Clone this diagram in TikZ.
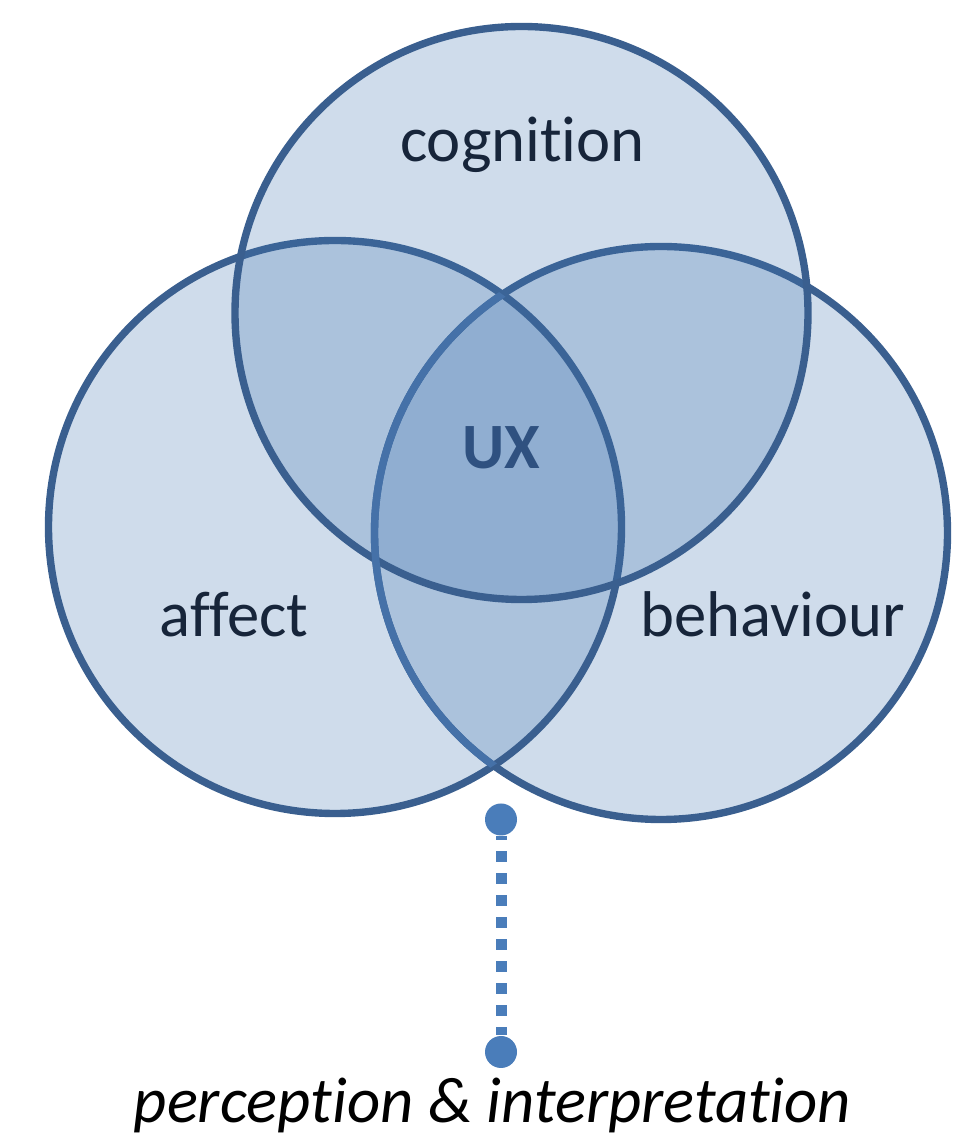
\documentclass[tikz,border=0pt]{standalone}
\usepackage{fontspec}
\setmainfont{Carlito}[RawFeature={-liga;-clig;-dlig;-calt}]
\usetikzlibrary{positioning,calc}

\definecolor{kant}{RGB}{58,95,143}
\definecolor{lyskant}{RGB}{69,113,168}
\definecolor{fyll}{RGB}{63,115,175}
\definecolor{prikkblaa}{RGB}{74,125,186}
\definecolor{tekst}{RGB}{23,37,58}
\definecolor{uxtekst}{RGB}{47,81,128}

\begin{document}
\begin{tikzpicture}[
  font=\fontsize{18.4}{22}\selectfont,
  sirkel/.style={circle, draw=kant, line width=2.1pt, fill=fyll, fill opacity=0.25, minimum size=5.73cm, inner sep=0pt},
  etikett/.style={anchor=base, text=tekst, inner sep=0pt},
  prikk/.style={circle, fill=prikkblaa, minimum size=3.2mm, inner sep=0pt},
  linje/.style={draw=prikkblaa, line width=1.1mm, dash pattern=on 1.1mm off 1.1mm, dash phase=0.7mm}
]
\useasboundingbox (0,0) rectangle (9.77,11.40);

% the three sets
\node[sirkel] (adferd) at (6.61,6.07) {};
\node[sirkel] (kjensle) at (3.35,6.13) {};
\node[sirkel] (kogn) at (5.215,8.27) {};

% behaviour rim seen through the affect fill
\begin{scope}
  \clip (kjensle.center) circle[radius=2.865cm];
  \draw[lyskant, line width=2.1pt] (adferd.center) circle[radius=2.865cm];
\end{scope}

\node[etikett] (kognlapp) at (5.225,9.78) {cognition};
\node[etikett] (kjenslelapp) at (2.34,5.03) {affect};
\node[etikett] (adferdlapp) at (7.725,5.03) {behaviour};
\node[etikett, text=uxtekst, font=\fontsize{18.4}{22}\selectfont\bfseries] (ux) at (5.015,6.71) {UX};

% dotted link down to the caption
\node[prikk] (topp) at (5.01,3.205) {};
\node[prikk] (botn) at (5.01,0.88) {};
\draw[linje] (topp) -- (botn);
\node[etikett, text=black, font=\fontsize{18.4}{22}\selectfont\itshape] (tolking) at (4.925,0.18) {perception \& interpretation};
\end{tikzpicture}
\end{document}
